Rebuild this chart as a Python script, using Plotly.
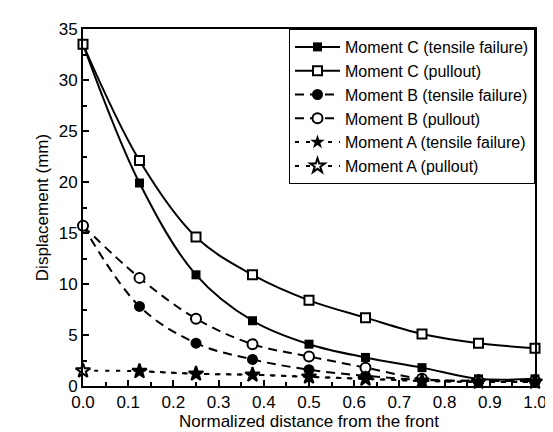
import plotly.graph_objects as go

x_pos = [0.0, 0.125, 0.25, 0.375, 0.5, 0.625, 0.75, 0.875, 1.0]

c_tensile = [33.5, 19.9, 10.9, 6.4, 4.1, 2.8, 1.8, 0.7, 0.7]
c_pullout = [33.5, 22.1, 14.6, 10.9, 8.4, 6.7, 5.1, 4.2, 3.7]
b_tensile = [15.7, 7.8, 4.2, 2.6, 1.6, 1.0, 0.6, 0.5, 0.5]
b_pullout = [15.7, 10.6, 6.6, 4.1, 2.9, 1.8, 0.7, 0.5, 0.5]
a_tensile = [None, 1.45, 1.2, 1.1, 0.9, 0.7, 0.5, 0.4, 0.4]
a_pullout = [1.5, 1.45, 1.2, 1.1, 0.9, 0.7, 0.5, 0.4, 0.4]

names = ["Moment C (tensile failure)", "Moment C (pullout)",
         "Moment B (tensile failure)", "Moment B (pullout)",
         "Moment A (tensile failure)", "Moment A (pullout)"]

series = [c_tensile, c_pullout, b_tensile, b_pullout, a_tensile, a_pullout]
symbols = ["square", "square-open", "circle", "circle-open", "star", "star-open"]
dashes = ["solid", "solid", "9px,6px", "9px,6px", "4px,7px", "4px,7px"]
sizes = [9, 9, 11, 10, 11, 11]
draw_order = [0, 1, 2, 3, 5, 4]

fig = go.Figure()
for i in draw_order:
    name, ys, sym, dash, sz = names[i], series[i], symbols[i], dashes[i], sizes[i]
    is_open = sym.endswith("open")
    fig.add_trace(go.Scatter(
        x=x_pos, y=ys, name=name, mode="lines+markers", legendrank=i + 1,
        connectgaps=True,
        line=dict(color="black", width=2, dash=dash, shape="spline", smoothing=1.0),
        marker=dict(symbol=sym.replace("-open", ""), size=sz,
                    color="white" if is_open else "black",
                    line=dict(color="black", width=2 if is_open else 0)),
        cliponaxis=False,
    ))

axis_font = dict(family="Liberation Sans, Arial", size=17, color="black")
fig.update_layout(
    width=553, height=432,
    margin=dict(l=75, r=26, t=16, b=50),
    plot_bgcolor="white", paper_bgcolor="white",
    font=axis_font,
    showlegend=True,
    legend=dict(x=1, y=1, xanchor="right", yanchor="top",
                bgcolor="white", bordercolor="black", borderwidth=1,
                font=dict(family="Liberation Sans, Arial", size=16, color="black"),
                tracegroupgap=0, itemwidth=45),
)
fig.update_xaxes(
    range=[0, 1], dtick=0.1, tickformat=".1f",
    showline=True, linecolor="black", linewidth=2, mirror=True,
    ticks="inside", ticklen=6, tickcolor="black", tickwidth=1.5,
    minor=dict(dtick=0.05, ticks="inside", ticklen=4, tickcolor="black"),
    showgrid=False, zeroline=False,
    title=dict(text="Normalized distance from the front", font=axis_font, standoff=4),
)
fig.update_yaxes(
    range=[0, 35], dtick=5,
    showline=True, linecolor="black", linewidth=2, mirror=True,
    ticks="inside", ticklen=6, tickcolor="black", tickwidth=1.5,
    minor=dict(dtick=2.5, ticks="inside", ticklen=4, tickcolor="black"),
    showgrid=False, zeroline=False,
    title=dict(text="Displacement (mm)", font=axis_font, standoff=6),
)

fig.write_html("out.html")
